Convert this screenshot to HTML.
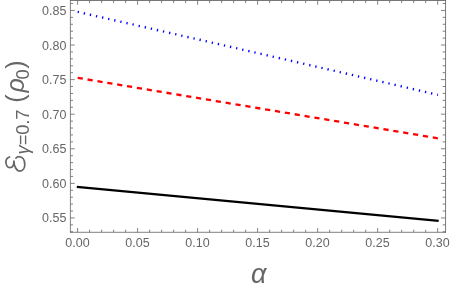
<!DOCTYPE html>
<html><head><meta charset="utf-8"><title>plot</title>
<style>
html,body{margin:0;padding:0;background:#fff;}
body{width:450px;height:289px;overflow:hidden;font-family:"Liberation Sans",sans-serif;}
svg{display:block;will-change:transform;}
text{font-family:"Liberation Sans",sans-serif;}
.i{font-style:italic;}
</style></head>
<body>
<svg width="450" height="289" viewBox="0 0 450 289">
<g fill="none" stroke="#666666" stroke-width="0.82">
<path d="M70.4 232.70V0"/><path d="M70.00 232.3H446.00"/><path stroke-width="0.86" d="M445.55 232.70V0"/><path stroke-width="0.95" d="M70.00 0.45H446.00"/>
<path stroke-width="0.82" d="M77.60 232.3v-4.3M77.60 0.45v4.3M89.60 232.3v-2.6M89.60 0.45v2.6M101.61 232.3v-2.6M101.61 0.45v2.6M113.61 232.3v-2.6M113.61 0.45v2.6M125.61 232.3v-2.6M125.61 0.45v2.6M137.62 232.3v-4.3M137.62 0.45v4.3M149.62 232.3v-2.6M149.62 0.45v2.6M161.62 232.3v-2.6M161.62 0.45v2.6M173.62 232.3v-2.6M173.62 0.45v2.6M185.63 232.3v-2.6M185.63 0.45v2.6M197.63 232.3v-4.3M197.63 0.45v4.3M209.63 232.3v-2.6M209.63 0.45v2.6M221.64 232.3v-2.6M221.64 0.45v2.6M233.64 232.3v-2.6M233.64 0.45v2.6M245.64 232.3v-2.6M245.64 0.45v2.6M257.64 232.3v-4.3M257.64 0.45v4.3M269.65 232.3v-2.6M269.65 0.45v2.6M281.65 232.3v-2.6M281.65 0.45v2.6M293.65 232.3v-2.6M293.65 0.45v2.6M305.66 232.3v-2.6M305.66 0.45v2.6M317.66 232.3v-4.3M317.66 0.45v4.3M329.66 232.3v-2.6M329.66 0.45v2.6M341.67 232.3v-2.6M341.67 0.45v2.6M353.67 232.3v-2.6M353.67 0.45v2.6M365.67 232.3v-2.6M365.67 0.45v2.6M377.67 232.3v-4.3M377.67 0.45v4.3M389.68 232.3v-2.6M389.68 0.45v2.6M401.68 232.3v-2.6M401.68 0.45v2.6M413.68 232.3v-2.6M413.68 0.45v2.6M425.69 232.3v-2.6M425.69 0.45v2.6M437.69 232.3v-4.3M437.69 0.45v4.3M70.4 231.78h2.6M445.55 231.78h-2.9M70.4 224.87h2.6M445.55 224.87h-2.9M70.4 217.95h4.3M445.55 217.95h-4.6M70.4 211.03h2.6M445.55 211.03h-2.9M70.4 204.12h2.6M445.55 204.12h-2.9M70.4 197.20h2.6M445.55 197.20h-2.9M70.4 190.28h2.6M445.55 190.28h-2.9M70.4 183.37h4.3M445.55 183.37h-4.6M70.4 176.45h2.6M445.55 176.45h-2.9M70.4 169.53h2.6M445.55 169.53h-2.9M70.4 162.62h2.6M445.55 162.62h-2.9M70.4 155.70h2.6M445.55 155.70h-2.9M70.4 148.78h4.3M445.55 148.78h-4.6M70.4 141.87h2.6M445.55 141.87h-2.9M70.4 134.95h2.6M445.55 134.95h-2.9M70.4 128.03h2.6M445.55 128.03h-2.9M70.4 121.12h2.6M445.55 121.12h-2.9M70.4 114.20h4.3M445.55 114.20h-4.6M70.4 107.28h2.6M445.55 107.28h-2.9M70.4 100.37h2.6M445.55 100.37h-2.9M70.4 93.45h2.6M445.55 93.45h-2.9M70.4 86.53h2.6M445.55 86.53h-2.9M70.4 79.62h4.3M445.55 79.62h-4.6M70.4 72.70h2.6M445.55 72.70h-2.9M70.4 65.78h2.6M445.55 65.78h-2.9M70.4 58.87h2.6M445.55 58.87h-2.9M70.4 51.95h2.6M445.55 51.95h-2.9M70.4 45.03h4.3M445.55 45.03h-4.6M70.4 38.12h2.6M445.55 38.12h-2.9M70.4 31.20h2.6M445.55 31.20h-2.9M70.4 24.28h2.6M445.55 24.28h-2.9M70.4 17.37h2.6M445.55 17.37h-2.9M70.4 10.45h4.3M445.55 10.45h-4.6M70.4 3.53h2.6M445.55 3.53h-2.9"/>
</g>
<g font-size="12.5" fill="#666666">
<text x="77.45" y="247.4" text-anchor="middle">0.00</text><text x="137.47" y="247.4" text-anchor="middle">0.05</text><text x="197.48" y="247.4" text-anchor="middle">0.10</text><text x="257.50" y="247.4" text-anchor="middle">0.15</text><text x="317.51" y="247.4" text-anchor="middle">0.20</text><text x="377.52" y="247.4" text-anchor="middle">0.25</text><text x="437.54" y="247.4" text-anchor="middle">0.30</text>
<text x="66.4" y="222.45" text-anchor="end">0.55</text><text x="66.4" y="187.87" text-anchor="end">0.60</text><text x="66.4" y="153.28" text-anchor="end">0.65</text><text x="66.4" y="118.70" text-anchor="end">0.70</text><text x="66.4" y="84.12" text-anchor="end">0.75</text><text x="66.4" y="49.53" text-anchor="end">0.80</text><text x="66.4" y="14.95" text-anchor="end">0.85</text>
</g>
<g fill="none" stroke-width="2">
<path d="M77.65 11.9Q257.77 52.90 437.89 94.89" stroke="#0000ff" stroke-width="2.4" stroke-dasharray="1.3 4.9525"/>
<line x1="77.70" y1="77.85" x2="437.99" y2="138.3" stroke="#ff0000" stroke-width="2.3" stroke-dasharray="5.2 4.8"/>
<path d="M76.80 186.85Q257.75 204.40 438.70 220.95" stroke="#000000" stroke-width="2.3"/>
</g>
<text x="258.6" y="282.6" font-size="27" class="i" text-anchor="middle" fill="#666666">α</text>
<path d="M9.5 157.0 C7.5 157.8 5.8 159.5 5.9 162 C6.0 165 7.5 167.6 9.8 167.6 C12.5 167.6 13.9 165 13.9 161.2 C14.0 166 16.5 171.1 19.9 171.1 C23 171.1 24.8 168 24.8 164.5 C24.8 160 22.5 156.6 19 156.6 C17.6 156.6 16.5 157.3 16.0 158.2" fill="none" stroke="#666666" stroke-width="1.75" stroke-linecap="round" stroke-linejoin="round"/>
<g transform="rotate(-90)" fill="#666666">
<text y="28.6" font-size="18.4"><tspan class="i" x="-154.53">γ</tspan><tspan x="-145.22">=</tspan><tspan x="-134.77">0</tspan><tspan x="-124.76">.</tspan><tspan x="-119.78">7</tspan></text>
<text y="24.2" font-size="25.0"><tspan x="-102.81">(</tspan><tspan class="i" x="-92.52">ρ</tspan></text>
<text y="28.6" font-size="18.4" x="-79.42">0</text>
<text y="24.2" font-size="25.0" x="-68.76">)</text>
</g>
</svg>
</body></html>
